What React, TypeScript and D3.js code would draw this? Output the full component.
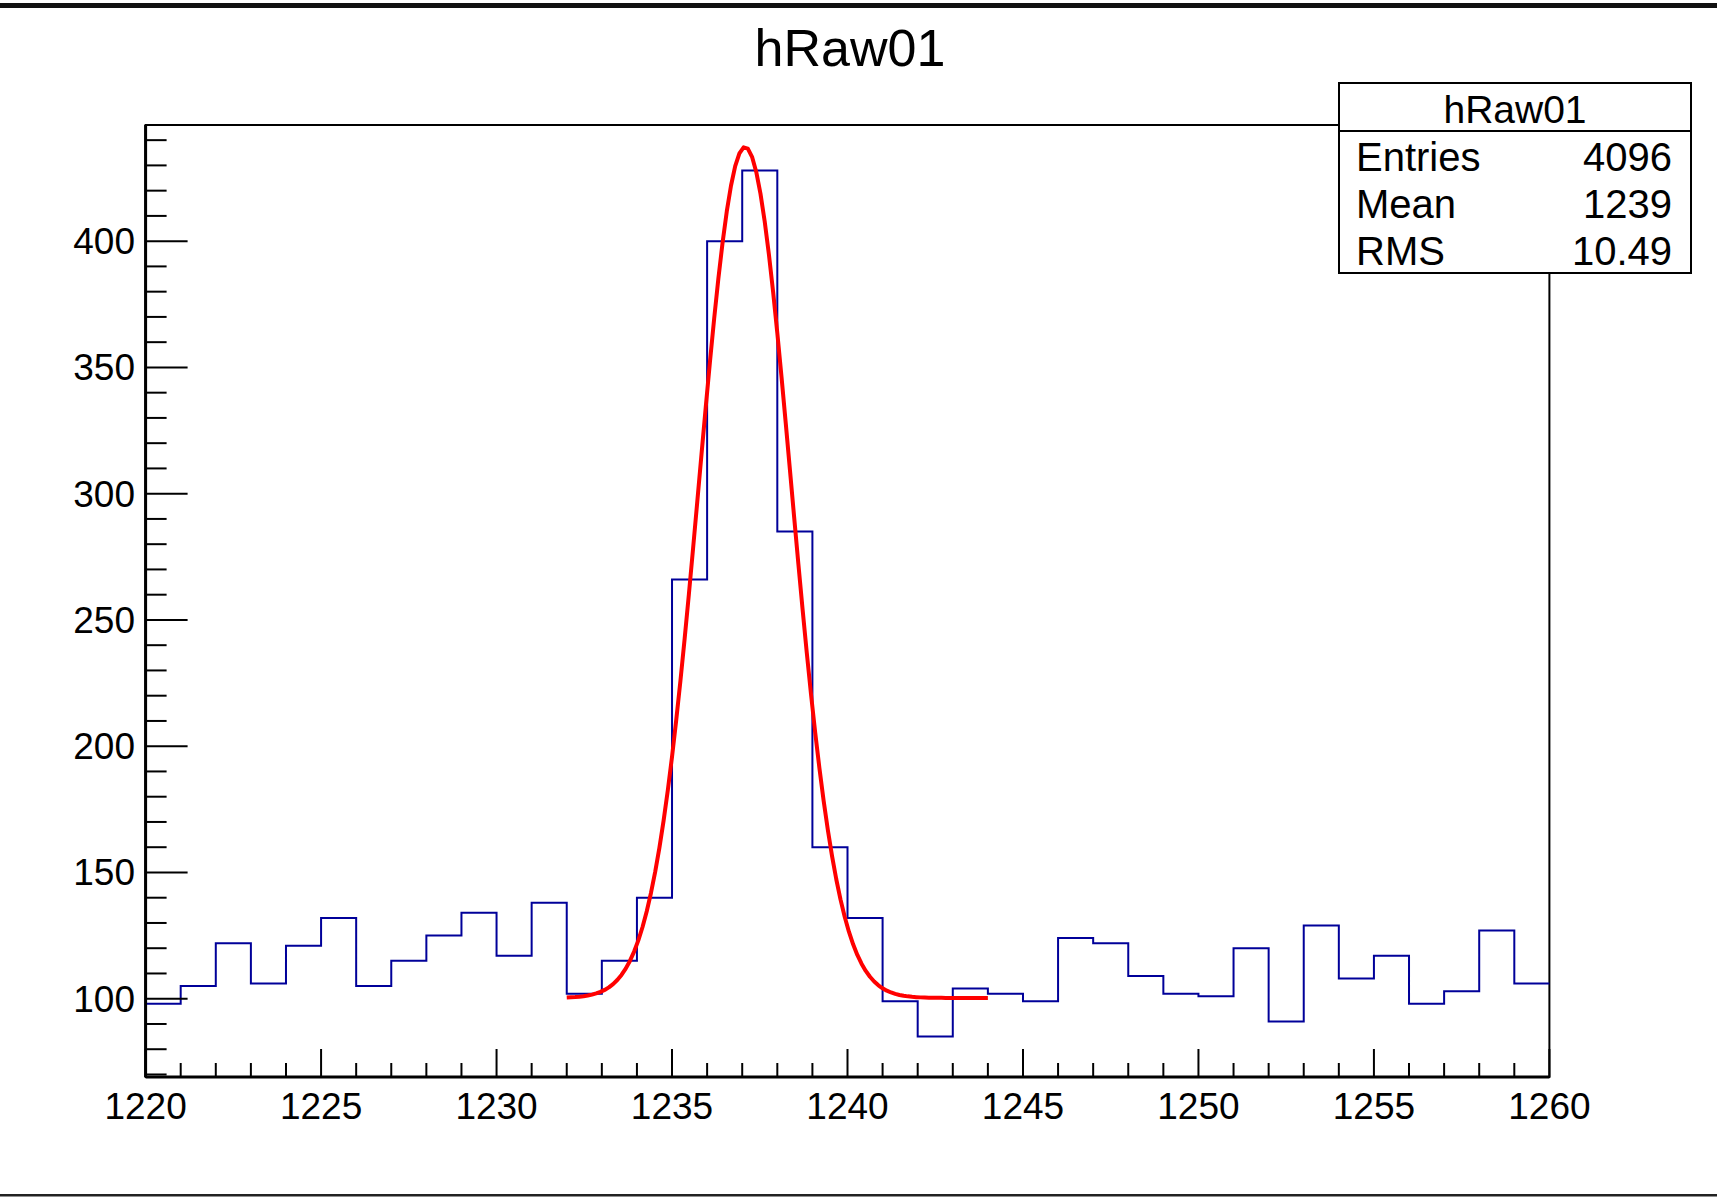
import React from 'react';
import * as d3 from 'd3';

// histogram hRaw01, 1 channel per bin, zoomed to 1220..1260
const BIN_LOW = 1220;
const BIN_WIDTH = 1;
const COUNTS = [
  98, 105, 122, 106, 121, 132, 105, 115, 125, 134,
  117, 138, 102, 115, 140, 266, 400, 428, 285, 160,
  132, 99, 85, 104, 102, 99, 124, 122, 109, 102,
  101, 120, 91, 129, 108, 117, 98, 103, 127, 106,
];

// gaus + const fit, drawn over its fit range
const FIT_RANGE = [1232, 1244];
const FIT_CONST = 100.3;
const FIT_AMP = 337;
const FIT_MEAN = 1237.08;
const FIT_SIGMA = 1.31;

const X_MAJOR = [1220, 1225, 1230, 1235, 1240, 1245, 1250, 1255, 1260];
const Y_MAJOR = [100, 150, 200, 250, 300, 350, 400];
const X_DOMAIN = [1220, 1260];
const Y_DOMAIN = [69, 446];

const TITLE = 'hRaw01';
const STAT_ROWS = [
  ['Entries', '4096'],
  ['Mean', '1239'],
  ['RMS', '10.49'],
];

const W = 1717;
const H = 1197;
const FONT = '"Liberation Sans", Arial, Helvetica, sans-serif';

export default function App() {
  const left = 145.6, right = 1549.4, top = 125, bottom = 1077;

  const x = d3.scaleLinear().domain(X_DOMAIN).range([left, right]);
  const y = d3.scaleLinear().domain(Y_DOMAIN).range([bottom, top]);

  // step outline: one point per bin edge
  const edges = COUNTS.map((c, i) => [BIN_LOW + i * BIN_WIDTH, c] as [number, number]);
  edges.push([BIN_LOW + COUNTS.length * BIN_WIDTH, COUNTS[COUNTS.length - 1]]);
  const stepLine = d3.line<[number, number]>()
    .x(d => x(d[0]))
    .y(d => y(d[1]))
    .curve(d3.curveStepAfter);

  const fit = (v: number) =>
    FIT_CONST + FIT_AMP * Math.exp(-((v - FIT_MEAN) ** 2) / (2 * FIT_SIGMA * FIT_SIGMA));
  const fitPts = d3.range(0, 101).map(i => {
    const v = FIT_RANGE[0] + (i / 100) * (FIT_RANGE[1] - FIT_RANGE[0]);
    return [v, fit(v)] as [number, number];
  });
  const fitLine = d3.line<[number, number]>().x(d => x(d[0])).y(d => y(d[1]));

  const xMinor = d3.range(X_DOMAIN[0], X_DOMAIN[1] + 1, 1).filter(v => !X_MAJOR.includes(v));
  const yMinor = d3.range(70, 446, 10).filter(v => !Y_MAJOR.includes(v));

  // stats box
  const bx0 = 1339, bx1 = 1691, by0 = 83, by1 = 273, bDiv = 131;

  return (
    <svg width={W} height={H} style={{ position: 'absolute', left: 0, top: 0, background: '#fff' }}
      fontFamily={FONT}>
      <rect x={0} y={0} width={W} height={H} fill="#fff" />
      {/* canvas edges */}
      <rect x={0} y={3} width={W} height={5} fill="#111" />
      <rect x={0} y={1194} width={W} height={2.5} fill="#222" />

      <text x={850} y={66} fontSize={52} textAnchor="middle" fill="#000">{TITLE}</text>

      {/* frame */}
      <rect x={left} y={top} width={right - left} height={bottom - top}
        fill="none" stroke="#000" strokeWidth={2} />

      {/* histogram */}
      <path d={stepLine(edges) || ''} fill="none" stroke="#000099" strokeWidth={2} />

      {/* fit */}
      <path d={fitLine(fitPts) || ''} fill="none" stroke="#ff0000" strokeWidth={4}
        strokeLinejoin="round" />

      {/* axes */}
      <line x1={left} x2={right} y1={bottom} y2={bottom} stroke="#000" strokeWidth={3} />
      <line x1={left} x2={left} y1={top} y2={bottom} stroke="#000" strokeWidth={3} />

      {X_MAJOR.map(v => (
        <g key={'xM' + v}>
          <line x1={x(v)} x2={x(v)} y1={bottom} y2={bottom - 28} stroke="#000" strokeWidth={2} />
          <text x={x(v)} y={1119} fontSize={37} textAnchor="middle">{v}</text>
        </g>
      ))}
      {xMinor.map(v => (
        <line key={'xm' + v} x1={x(v)} x2={x(v)} y1={bottom} y2={bottom - 14} stroke="#000" strokeWidth={2} />
      ))}

      {Y_MAJOR.map(v => (
        <g key={'yM' + v}>
          <line x1={left} x2={left + 42} y1={y(v)} y2={y(v)} stroke="#000" strokeWidth={2} />
          <text x={135} y={y(v) + 13} fontSize={37} textAnchor="end">{v}</text>
        </g>
      ))}
      {yMinor.map(v => (
        <line key={'ym' + v} x1={left} x2={left + 21} y1={y(v)} y2={y(v)} stroke="#000" strokeWidth={2} />
      ))}

      {/* stats box */}
      <rect x={bx0} y={by0} width={bx1 - bx0} height={by1 - by0} fill="#fff" stroke="#000" strokeWidth={2} />
      <line x1={bx0} x2={bx1} y1={bDiv} y2={bDiv} stroke="#000" strokeWidth={2} />
      <text x={(bx0 + bx1) / 2} y={123} fontSize={39} textAnchor="middle">{TITLE}</text>
      {STAT_ROWS.map((r, i) => (
        <g key={r[0]}>
          <text x={1356} y={171 + i * 47} fontSize={40}>{r[0]}</text>
          <text x={1672} y={171 + i * 47} fontSize={40} textAnchor="end">{r[1]}</text>
        </g>
      ))}
    </svg>
  );
}
